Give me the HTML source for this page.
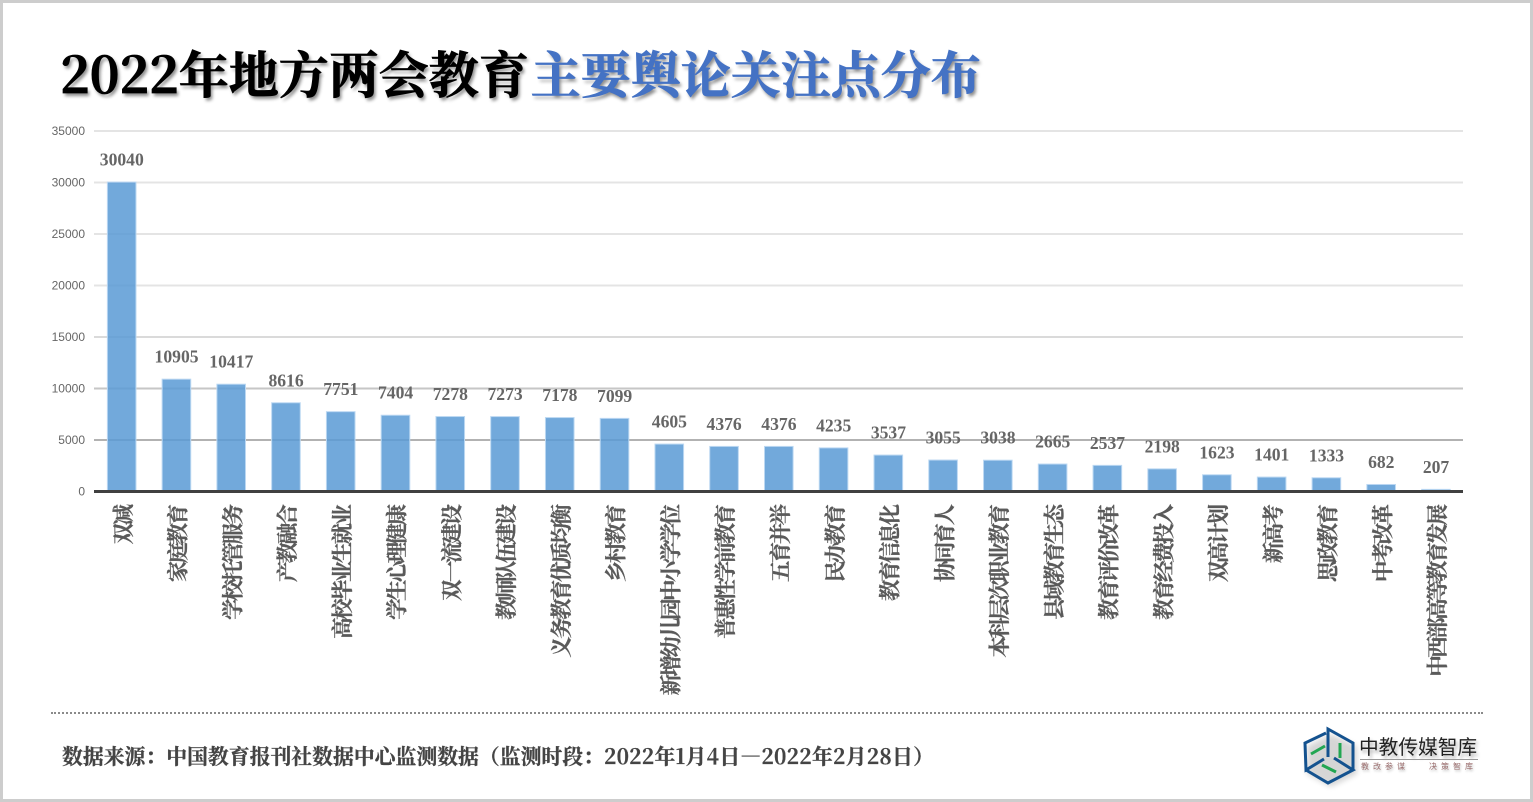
<!DOCTYPE html>
<html lang="zh-CN">
<head>
<meta charset="utf-8">
<title>2022年地方两会教育主要舆论关注点分布</title>
<style>
html,body{margin:0;padding:0;background:#fff;}
#page{position:relative;width:1533px;height:802px;overflow:hidden;background:#fff;}
#frame{position:absolute;left:0;top:0;width:1533px;height:802px;box-sizing:border-box;border:3px solid #cdcdcd;pointer-events:none;}
#title{position:absolute;left:60px;top:38px;white-space:nowrap;font-family:"Noto Serif CJK SC","Liberation Serif",serif;font-weight:700;font-size:50px;line-height:68px;color:#000;text-shadow:2px 3px 3px rgba(0,0,0,.45);-webkit-text-stroke:.8px currentColor;}
#title .blue{color:#4472c4;margin-left:2px;}
#chart{position:absolute;left:0;top:0;}
#dots{position:absolute;left:51px;top:712px;width:1432px;height:0;border-top:2px dotted #8a8a8a;}
#source{position:absolute;left:62px;top:740px;white-space:nowrap;font-family:"Noto Serif CJK SC","Liberation Serif",serif;font-weight:700;font-size:20.85px;line-height:30px;color:#444;-webkit-text-stroke:.3px currentColor;}
#source .dates{letter-spacing:.25px;}
#logo-name{position:absolute;left:1359px;top:735px;white-space:nowrap;font-family:"Liberation Sans","Noto Sans CJK SC",sans-serif;font-size:19.7px;line-height:26px;color:#222;text-shadow:2px 3px 3px rgba(0,0,0,.3);}
#logo-rule{position:absolute;left:1360px;top:759px;width:118px;height:1px;background:#999;}
.logo-sub{position:absolute;top:762px;white-space:nowrap;font-family:"Liberation Sans","Noto Sans CJK SC",sans-serif;font-size:8px;line-height:10px;letter-spacing:4px;color:#9c6f6f;text-shadow:1px 2px 2px rgba(0,0,0,.25);}
</style>
</head>
<body>
<div id="page">
  <div id="title">2022年地方两会教育<span class="blue">主要舆论关注点分布</span></div>
  <svg id="chart" width="1533" height="802" viewBox="0 0 1533 802" xmlns="http://www.w3.org/2000/svg"></svg>
  <div id="dots"></div>
  <div id="source">数据来源：中国教育报刊社数据中心监测数据（监测时段：<span class="dates">2022年1月4日—2022年2月28日</span>）</div>
  <svg style="position:absolute;left:1298px;top:724px" width="70" height="68" viewBox="0 0 70 68" xmlns="http://www.w3.org/2000/svg">
    <defs><filter id="logoBlur" x="-20%" y="-20%" width="140%" height="140%"><feGaussianBlur stdDeviation="3"/></filter></defs>
    <polygon points="33,10 59,22 59,50 33,63 9,50 9,22" fill="#000" opacity=".16" filter="url(#logoBlur)"/>
    <g fill="none" stroke="#14528f" stroke-width="3" stroke-linejoin="miter">
      <polyline points="28,9 7,19 8,46 26,35"/>
      <polyline points="30,33 30,5 55,19 55,46"/>
      <polyline points="8,46 30,59 55,46 36,34"/>
    </g>
    <g fill="none" stroke="#22a652" stroke-width="3">
      <line x1="13" y1="30" x2="27" y2="22"/>
      <line x1="42" y1="19" x2="42" y2="34"/>
      <line x1="24" y1="41" x2="38" y2="48"/>
    </g>
  </svg>
  <div id="logo-name">中教传媒智库</div>
  <div id="logo-rule"></div>
  <div class="logo-sub" style="left:1361px">教改参谋</div>
  <div class="logo-sub" style="left:1429px">决策智库</div>
  <div id="frame"></div>
</div>
<script>
const categories = ["双减","家庭教育","学校托管服务","产教融合","高校毕业生就业","学生心理健康","双一流建设","教师队伍建设","义务教育优质均衡","乡村教育","新增幼儿园中小学学位","普惠性学前教育","五育并举","民办教育","教育信息化","协同育人","本科层次职业教育","县域教育生态","教育评价改革","教育经费投入","双高计划","新高考","思政教育","中考改革","中西部高等教育发展"];
const seriesValues = [30040,10905,10417,8616,7751,7404,7278,7273,7178,7099,4605,4376,4376,4235,3537,3055,3038,2665,2537,2198,1623,1401,1333,682,207];
const tickValues = [0,5000,10000,15000,20000,25000,30000,35000];

const svg = document.getElementById('chart');
const NS = 'http://www.w3.org/2000/svg';
const plot = {left:94, right:1463, top:131, bottom:491.5};
const yMax = tickValues[tickValues.length - 1];
const band = (plot.right - plot.left) / categories.length;
function xCenter(i){ return plot.left + band * (i + 0.5); }
function yScale(v){ return plot.bottom - (v / yMax) * (plot.bottom - plot.top); }
function make(tag, attrs, text){
  const el = document.createElementNS(NS, tag);
  for (const k in attrs) el.setAttribute(k, attrs[k]);
  if (text !== undefined) el.textContent = text;
  svg.appendChild(el);
  return el;
}
function gridColor(v){
  const t = v / yMax;
  const shade = Math.round(158 + 70 * Math.min(1, t / 0.5));
  return 'rgb(' + shade + ',' + shade + ',' + shade + ')';
}

tickValues.forEach(function(v){
  const y = yScale(v);
  if (v > 0) {
    const line = make('line', {x1:plot.left, x2:plot.right, y1:y, y2:y, stroke:gridColor(v), 'stroke-width':2});
    
    
  }
  const tick = make('text', {x:85, y:y + 4.2, 'text-anchor':'end', 'font-family':'"Liberation Sans",sans-serif', 'font-size':12, fill:'#666'}, String(v));
  
  
});

seriesValues.forEach(function(v, i){
  const c = xCenter(i);
  const w = 28.6;
  const top = yScale(v);
  const bar = make('rect', {x:c - w / 2 + 0.3, y:top, width:w, height:Math.max(0, plot.bottom - top), fill:'#5b9bd5', 'fill-opacity':.86, stroke:'#bcd8f2', 'stroke-width':1});
  
  
  const label = make('text', {x:c + 0.4, y:top - 16.5, 'text-anchor':'middle', 'font-family':'"Liberation Serif",serif', 'font-weight':700, 'font-size':17.6, fill:'#666'}, String(v));
  
  
});

const axis = make('line', {x1:plot.left, x2:plot.right, y1:plot.bottom, y2:plot.bottom, stroke:'#404040', 'stroke-width':3});



categories.forEach(function(name, i){
  const x = xCenter(i) + 9.5;
  const y = 506.5;
  const cat = make('text', {x:x, y:y, 'text-anchor':'end', transform:'rotate(-90 ' + x + ' ' + y + ')', 'font-family':'"Liberation Serif","Noto Serif CJK SC",serif', 'font-weight':700, 'font-size':21.5, 'letter-spacing':-2.6, fill:'#5a5a5a', stroke:'#5a5a5a', 'stroke-width':.25}, name);
  
  
});
</script>
</body>
</html>
